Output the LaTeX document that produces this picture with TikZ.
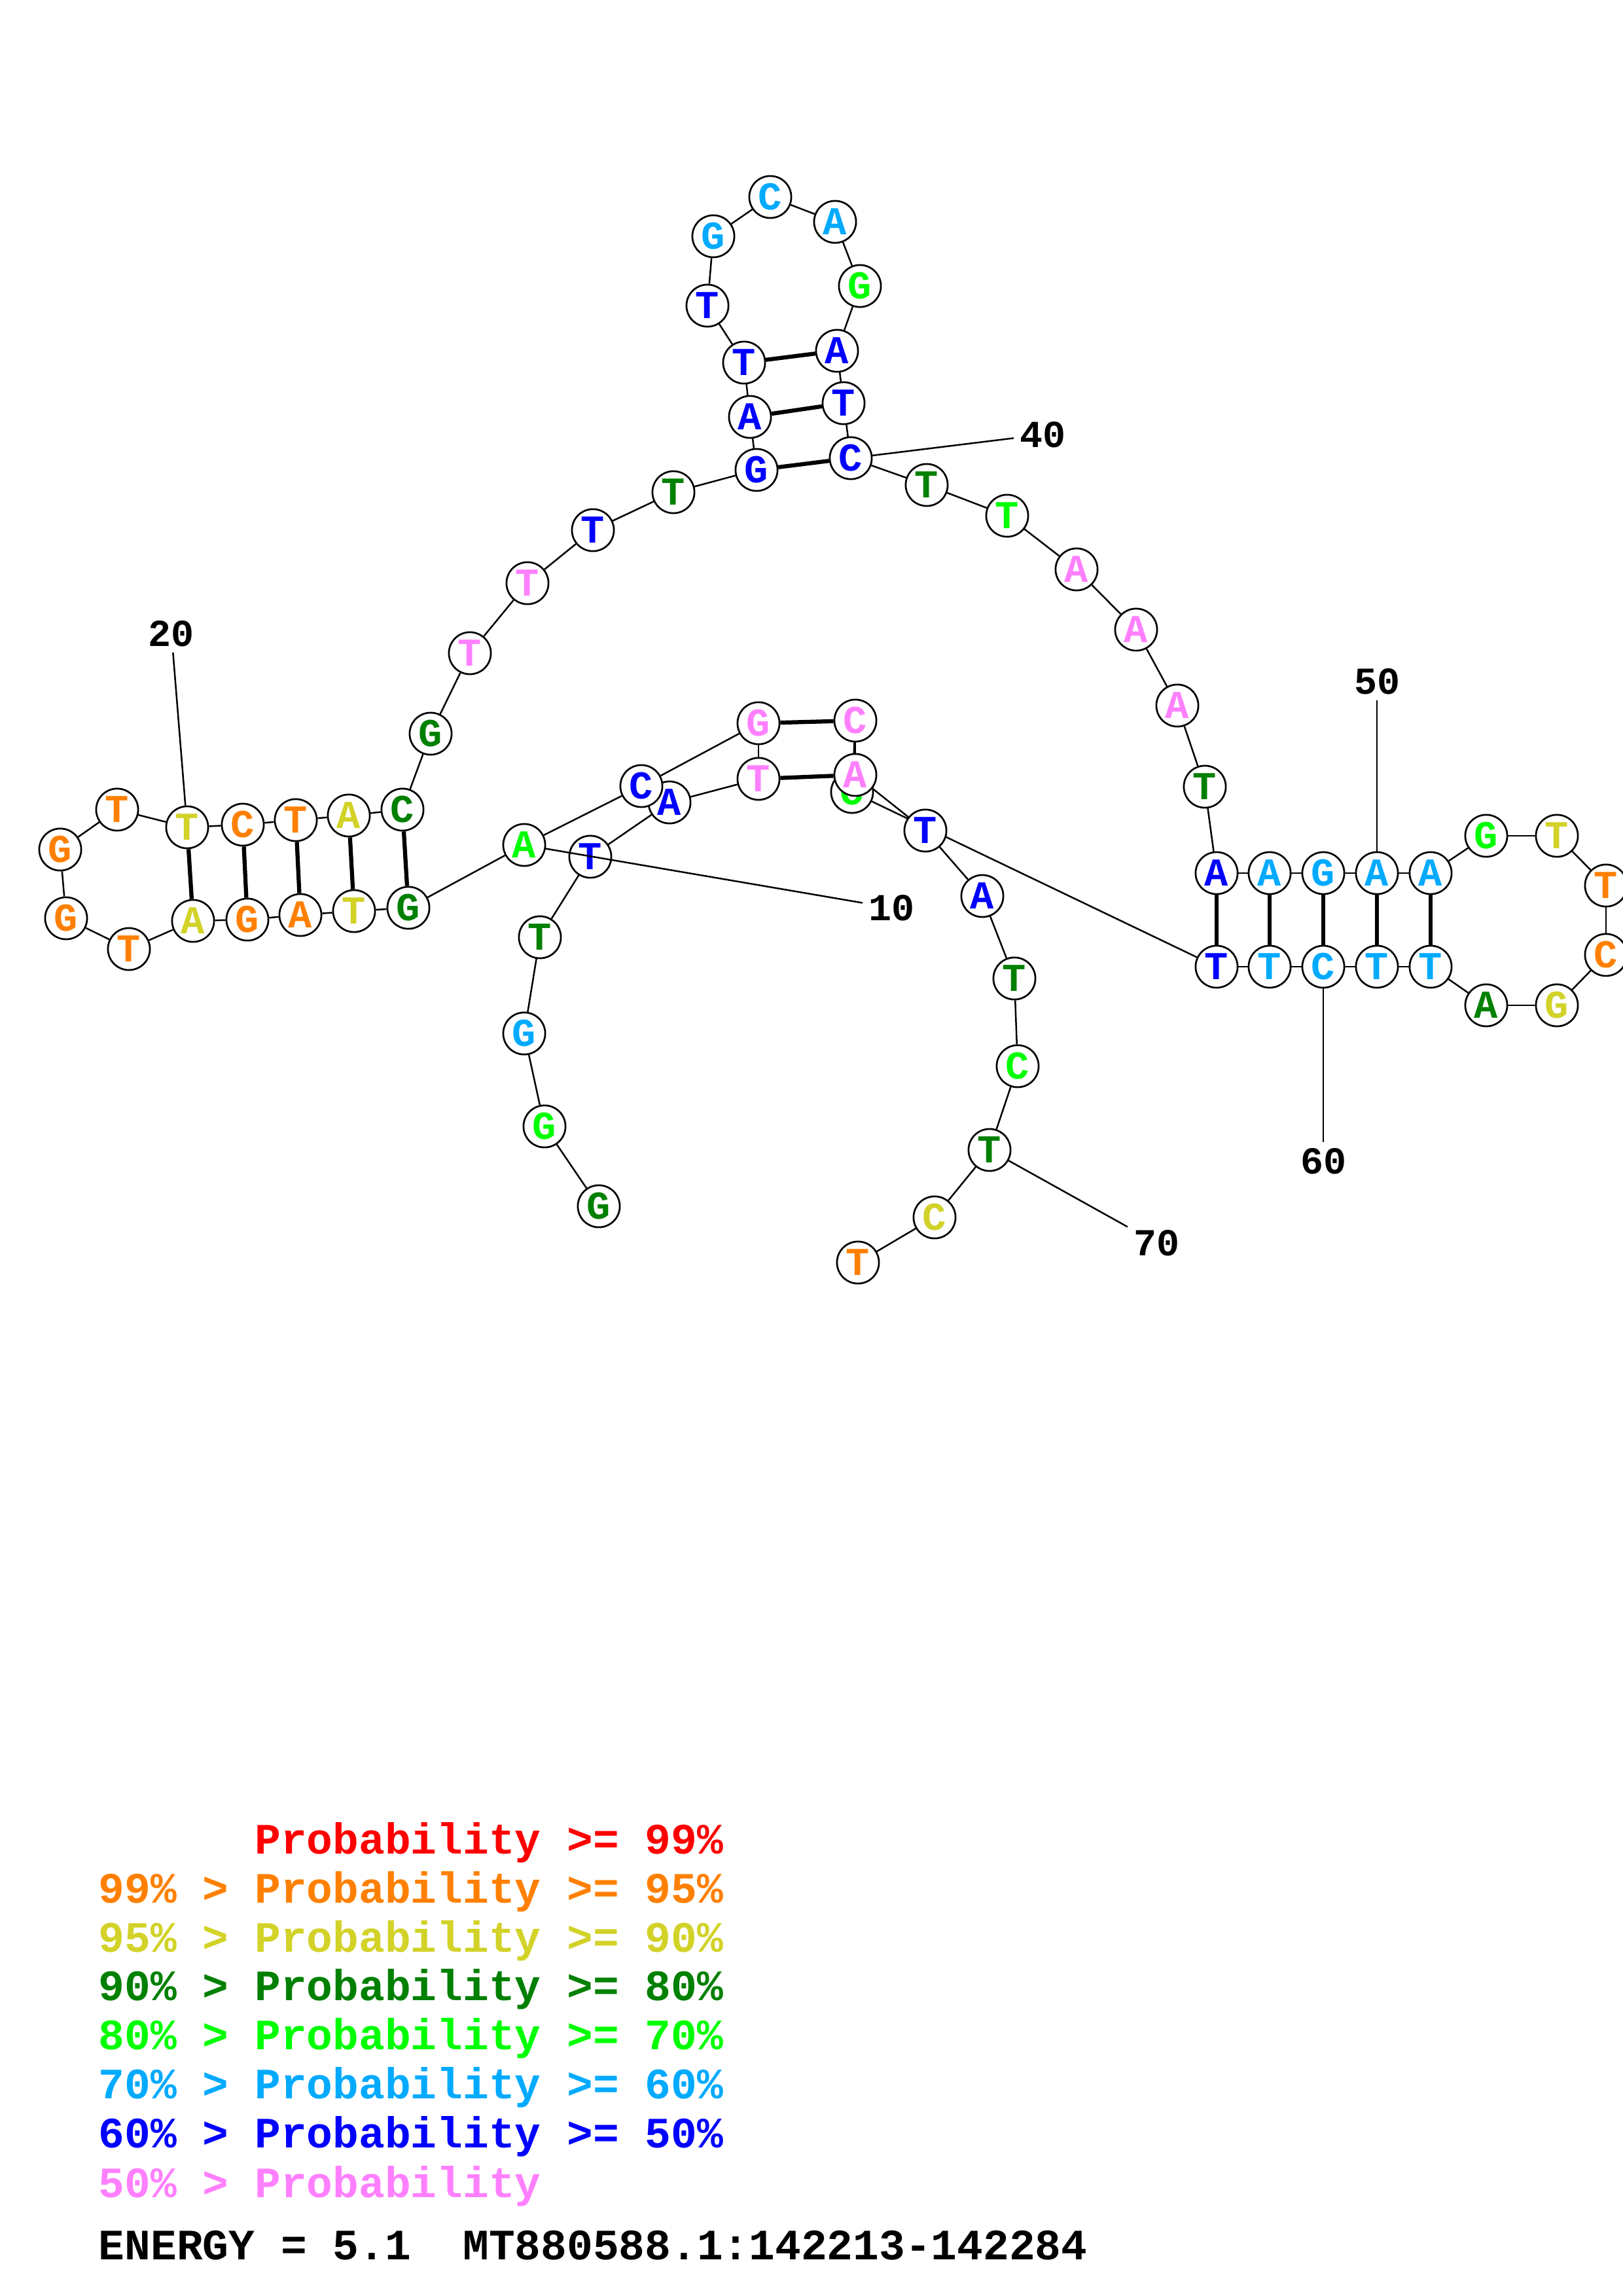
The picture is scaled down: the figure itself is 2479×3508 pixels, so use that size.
\documentclass[tikz,border=0pt]{standalone}
\usepackage{fontspec}
\setmainfont{Liberation Mono}
\definecolor{p99}{RGB}{255,0,0}
\definecolor{p95}{RGB}{255,128,0}
\definecolor{p90}{RGB}{210,210,40}
\definecolor{p80}{RGB}{0,128,0}
\definecolor{p70}{RGB}{0,255,0}
\definecolor{p60}{RGB}{0,170,255}
\definecolor{p50}{RGB}{0,0,255}
\definecolor{plow}{RGB}{255,128,255}
\pgfdeclarelayer{background}
\pgfsetlayers{background,main}

\begin{document}
\begin{tikzpicture}[x=0.24pt,y=-0.24pt,
    % styles
    base/.style={circle,draw,fill=white,line width=0.65pt,minimum size=15.4pt,
      inner sep=0pt,font=\fontsize{14.5}{14.5}\selectfont\bfseries},
    backbone/.style={line width=0.6pt},
    pair/.style={line width=1.5pt},
    tick/.style={line width=0.6pt},
    num/.style={inner sep=2pt,font=\fontsize{14}{14}\selectfont\bfseries},
    legend/.style={anchor=base west,inner sep=0pt,
      font=\fontsize{15.9}{15.9}\selectfont\bfseries}]

  \useasboundingbox (0,0) rectangle (2479,3508);

  % bases
  \foreach \i/\x/\y/\b/\c in {
      1/915/1843/G/p80, 2/832/1721/G/p70, 3/801/1579/G/p60, 4/825/1432/T/p80,
      5/902/1309/T/p50, 6/1023/1226/A/p50, 7/1159/1190/T/plow, 8/1159/1105/G/plow,
      9/980/1201/C/p50, 10/801/1291/A/p70, 11/624/1387/G/p80, 12/541/1392/T/p90,
      13/459/1398/A/p95, 14/378/1405/G/p95, 15/295/1407/A/p90, 16/197/1450/T/p95,
      17/101/1403/G/p95, 18/92/1298/G/p95, 19/179/1237/T/p95, 20/286/1264/T/p90,
      21/371/1260/C/p95, 22/452/1253/T/p95, 23/533/1246/A/p90, 24/615/1237/C/p80,
      25/658/1121/G/p80, 26/718/998/T/plow, 27/806/891/T/plow, 28/906/810/T/p50,
      29/1029/752/T/p80, 30/1156/718/G/p50, 31/1146/637/A/p50, 32/1137/554/T/p50,
      33/1081/467/T/p50, 34/1090/361/G/p60, 35/1177/301/C/p60, 36/1276/339/A/p60,
      37/1314/437/G/p70, 38/1279/536/A/p50, 39/1289/616/T/p50, 40/1300/700/C/p50,
      41/1416/741/T/p80, 42/1539/788/T/p70, 43/1645/870/A/plow, 44/1736/962/A/plow,
      45/1799/1078/A/plow, 46/1841/1202/T/p80, 47/1859/1334/A/p50, 48/1940/1334/A/p60,
      49/2022/1334/G/p60, 50/2104/1334/A/p60, 51/2186/1334/A/p60, 52/2271/1277/G/p70,
      53/2379/1277/T/p90, 54/2454/1353/T/p95, 55/2454/1459/C/p95, 56/2379/1536/G/p90,
      57/2271/1536/A/p80, 58/2186/1477/T/p60, 59/2104/1477/T/p60, 60/2022/1477/C/p60,
      61/1940/1477/T/p60, 62/1859/1477/T/p50, 63/1302/1210/C/p70, 64/1307/1101/C/plow,
      65/1307/1184/A/plow, 66/1414/1269/T/p50, 67/1501/1369/A/p50, 68/1550/1495/T/p80,
      69/1555/1629/C/p70, 70/1512/1757/T/p80, 71/1428/1860/C/p90, 72/1311/1929/T/p95}
    \node[base,text=\c] (n\i) at (\x,\y) {\b};

  % backbone and pairs
  \begin{pgfonlayer}{background}
    \foreach \i [evaluate=\i as \j using int(\i+1)] in {1,...,71}
      \draw[backbone] (n\i) -- (n\j);
    \foreach \a/\b in {7/65,8/64,11/24,12/23,13/22,14/21,15/20,30/40,31/39,32/38,
        47/62,48/61,49/60,50/59,51/58}
      \draw[pair] (n\a) -- (n\b);
  \end{pgfonlayer}

  % numbering
  \node[num] (l10) at (1362,1387) {10};
  \node[num] (l20) at (262,968) {20};
  \node[num] (l40) at (1593,664) {40};
  \node[num] (l50) at (2104,1041) {50};
  \node[num] (l60) at (2022,1774) {60};
  \node[num] (l70) at (1767,1899) {70};
  \foreach \i in {10,20,40,50,60,70}
    \draw[tick] (n\i) -- (l\i);

  % legend
  \node[legend,text=p99] (k99) at (150,2832) {\phantom{99\% > }Probability >= 99\%};
  \node[legend,text=p95] (k95) at (150,2907) {99\% > Probability >= 95\%};
  \node[legend,text=p90] (k90) at (150,2982) {95\% > Probability >= 90\%};
  \node[legend,text=p80] (k80) at (150,3056) {90\% > Probability >= 80\%};
  \node[legend,text=p70] (k70) at (150,3131) {80\% > Probability >= 70\%};
  \node[legend,text=p60] (k60) at (150,3206) {70\% > Probability >= 60\%};
  \node[legend,text=p50] (k50) at (150,3281) {60\% > Probability >= 50\%};
  \node[legend,text=plow] (klow) at (150,3357) {50\% > Probability};
  \node[legend] (energy) at (150,3452) {ENERGY = 5.1\ \ MT880588.1:142213-142284};
\end{tikzpicture}
\end{document}
